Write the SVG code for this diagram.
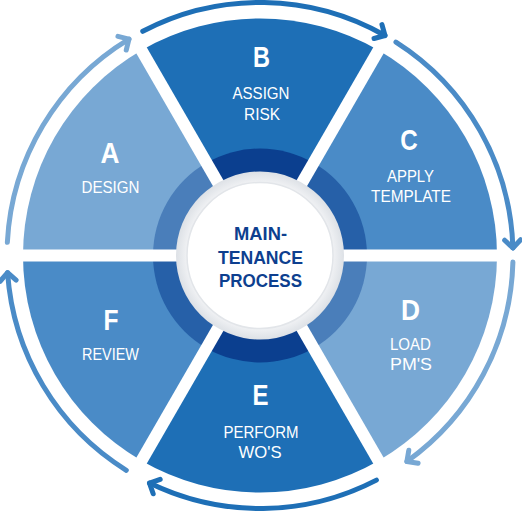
<svg xmlns="http://www.w3.org/2000/svg" width="522" height="512" viewBox="0 0 522 512">
<defs>
<style>
.light{fill:#78a8d4}
.mid{fill:#4a8bc7}
.dark{fill:#1e6fb6}
.ilight{fill:#4a7eba}
.imid{fill:#2660a8}
.idark{fill:#0b3f8f}
.letter{font-family:"Liberation Sans",Arial,sans-serif;font-weight:bold;font-size:30px;fill:#ffffff;text-anchor:middle}
.lbl{font-family:"Liberation Sans",Arial,sans-serif;font-size:17px;fill:#ffffff;text-anchor:middle}
.ctr{font-family:"Liberation Sans",Arial,sans-serif;font-weight:bold;font-size:19px;fill:#0d3f8f;text-anchor:middle}
.arc{fill:none;stroke-width:5;stroke-linecap:round}
.divider{stroke:#ffffff;stroke-width:12}
</style>
<marker id="hL" markerUnits="userSpaceOnUse" viewBox="-15 -15 30 30" markerWidth="30" markerHeight="30" refX="0" refY="0" orient="auto" overflow="visible">
<path d="M-8,-8 L0,0 L-8,8" fill="none" stroke="#78a8d4" stroke-width="5" stroke-linecap="round" stroke-linejoin="round"/>
</marker>
<marker id="hM" markerUnits="userSpaceOnUse" viewBox="-15 -15 30 30" markerWidth="30" markerHeight="30" refX="0" refY="0" orient="auto" overflow="visible">
<path d="M-8,-8 L0,0 L-8,8" fill="none" stroke="#4a8bc7" stroke-width="5" stroke-linecap="round" stroke-linejoin="round"/>
</marker>
<marker id="hD" markerUnits="userSpaceOnUse" viewBox="-15 -15 30 30" markerWidth="30" markerHeight="30" refX="0" refY="0" orient="auto" overflow="visible">
<path d="M-8,-8 L0,0 L-8,8" fill="none" stroke="#1e6fb6" stroke-width="5" stroke-linecap="round" stroke-linejoin="round"/>
</marker>
<radialGradient id="ringG" cx="0.5" cy="0.5" r="0.5">
<stop offset="0.85" stop-color="#f3f4f6"/>
<stop offset="1" stop-color="#dde1e6"/>
</radialGradient>
</defs>
<rect width="522" height="512" fill="#ffffff"/>

<g id="node-A">
<path class="light" d="M260,255.5 L23,255.5 A237,237 0 0 1 141.5,50.25 Z"/>
<path class="ilight" d="M260,255.5 L153,255.5 A107,107 0 0 1 206.5,162.83 Z"/>
<text class="letter" x="110" y="162.5" textLength="19" lengthAdjust="spacingAndGlyphs">A</text>
<text class="lbl" x="110.5" y="192.5" textLength="58" lengthAdjust="spacingAndGlyphs">DESIGN</text>
</g>
<g id="node-B">
<path class="dark" d="M260,255.5 L141.5,50.25 A237,237 0 0 1 378.5,50.25 Z"/>
<path class="idark" d="M260,255.5 L206.5,162.83 A107,107 0 0 1 313.5,162.83 Z"/>
<text class="letter" x="261.5" y="66.5" textLength="17" lengthAdjust="spacingAndGlyphs">B</text>
<text class="lbl" x="261" y="98.5" textLength="57" lengthAdjust="spacingAndGlyphs">ASSIGN</text>
<text class="lbl" x="262" y="119.5" textLength="36" lengthAdjust="spacingAndGlyphs">RISK</text>
</g>
<g id="node-C">
<path class="mid" d="M260,255.5 L378.5,50.25 A237,237 0 0 1 497,255.5 Z"/>
<path class="imid" d="M260,255.5 L313.5,162.83 A107,107 0 0 1 367,255.5 Z"/>
<text class="letter" x="409" y="150" textLength="17.5" lengthAdjust="spacingAndGlyphs">C</text>
<text class="lbl" x="410.5" y="181.5" textLength="47" lengthAdjust="spacingAndGlyphs">APPLY</text>
<text class="lbl" x="411" y="201.5" textLength="80" lengthAdjust="spacingAndGlyphs">TEMPLATE</text>
</g>
<g id="node-D">
<path class="light" d="M260,255.5 L497,255.5 A237,237 0 0 1 378.5,460.75 Z"/>
<path class="ilight" d="M260,255.5 L367,255.5 A107,107 0 0 1 313.5,348.17 Z"/>
<text class="letter" x="410.5" y="319.5" textLength="19" lengthAdjust="spacingAndGlyphs">D</text>
<text class="lbl" x="410.5" y="350" textLength="41" lengthAdjust="spacingAndGlyphs">LOAD</text>
<text class="lbl" x="411" y="369.8" textLength="42" lengthAdjust="spacingAndGlyphs">PM'S</text>
</g>
<g id="node-E">
<path class="dark" d="M260,255.5 L378.5,460.75 A237,237 0 0 1 141.5,460.75 Z"/>
<path class="idark" d="M260,255.5 L313.5,348.17 A107,107 0 0 1 206.5,348.17 Z"/>
<text class="letter" x="260.5" y="405" textLength="16" lengthAdjust="spacingAndGlyphs">E</text>
<text class="lbl" x="261" y="438" textLength="75" lengthAdjust="spacingAndGlyphs">PERFORM</text>
<text class="lbl" x="260" y="457.8" textLength="43" lengthAdjust="spacingAndGlyphs">WO'S</text>
</g>
<g id="node-F">
<path class="mid" d="M260,255.5 L141.5,460.75 A237,237 0 0 1 23,255.5 Z"/>
<path class="imid" d="M260,255.5 L206.5,348.17 A107,107 0 0 1 153,255.5 Z"/>
<text class="letter" x="111" y="330" textLength="15" lengthAdjust="spacingAndGlyphs">F</text>
<text class="lbl" x="110.5" y="360" textLength="57" lengthAdjust="spacingAndGlyphs">REVIEW</text>
</g>

<g id="dividers">
<line class="divider" x1="16" y1="255.5" x2="504" y2="255.5"/>
<line class="divider" x1="138" y1="44.2" x2="382" y2="466.8"/>
<line class="divider" x1="382" y1="44.2" x2="138" y2="466.8"/>
</g>

<g id="node-center">
<circle cx="260" cy="255.5" r="84" fill="url(#ringG)"/>
<circle cx="260" cy="255.5" r="73" fill="#ffffff" stroke="#e2e5e9" stroke-width="1.5"/>
<text class="ctr" x="260.5" y="240" textLength="53" lengthAdjust="spacingAndGlyphs">MAIN-</text>
<text class="ctr" x="260.5" y="264" textLength="85" lengthAdjust="spacingAndGlyphs">TENANCE</text>
<text class="ctr" x="260.5" y="287" textLength="83" lengthAdjust="spacingAndGlyphs">PROCESS</text>
</g>

<g id="connectors">
<path class="arc" stroke="#78a8d4" marker-end="url(#hL)" d="M7.35,242.26 A253,253 0 0 1 128.94,39.09"/>
<path class="arc" stroke="#1e6fb6" marker-end="url(#hD)" d="M142.78,31.29 A253,253 0 0 1 384.97,35.52"/>
<path class="arc" stroke="#4a8bc7" marker-end="url(#hM)" d="M395.94,42.12 A253,253 0 0 1 512.89,248"/>
<path class="arc" stroke="#78a8d4" marker-end="url(#hL)" d="M512.91,262.12 A253,253 0 0 1 406.92,461.47"/>
<path class="arc" stroke="#1e6fb6" marker-end="url(#hD)" d="M376.43,480.12 A253,253 0 0 1 149.49,483.09"/>
<path class="arc" stroke="#4a8bc7" marker-end="url(#hM)" d="M126.3,470.29 A253,253 0 0 1 7.59,272.71"/>
</g>
</svg>
